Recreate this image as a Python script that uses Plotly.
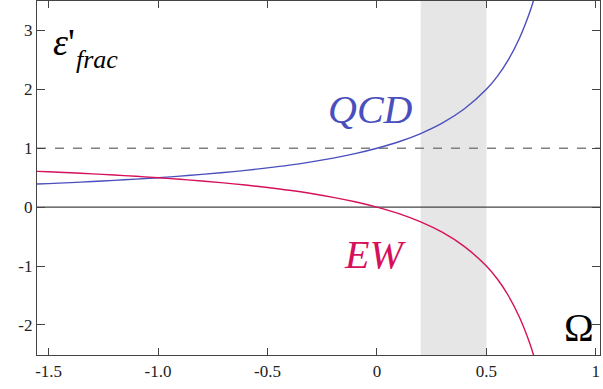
import plotly.graph_objects as go

# Values
omega = [-1.6, -1.5, -1.4, -1.3, -1.2, -1.1, -1.0, -0.9, -0.8, -0.7, -0.6, -0.5, -0.4,
         -0.3, -0.2, -0.1, 0.0, 0.1, 0.2, 0.3, 0.4, 0.5, 0.55, 0.6, 0.65, 0.7, 0.72, 0.74]
qcd = [0.385, 0.40, 0.417, 0.435, 0.455, 0.476, 0.50, 0.526, 0.556, 0.588, 0.625, 0.667, 0.714,
       0.769, 0.833, 0.909, 1.00, 1.11, 1.25, 1.43, 1.67, 2.00, 2.22, 2.50, 2.86, 3.33, 3.57, 3.85]
ew = [0.615, 0.60, 0.583, 0.565, 0.545, 0.524, 0.50, 0.474, 0.444, 0.412, 0.375, 0.333, 0.286,
      0.231, 0.167, 0.091, 0.00, -0.11, -0.25, -0.43, -0.67, -1.00, -1.22, -1.50, -1.86, -2.33, -2.57, -2.85]

band = [0.2, 0.5]
ref_level = 1.0

x_tickvals = [-1.5, -1.0, -0.5, 0, 0.5, 1]
x_ticktext = ["-1.5", "-1.0", "-0.5", "0", "0.5", "1"]
y_tickvals = [-2, -1, 0, 1, 2, 3]
y_ticktext = ["-2", "-1", "0", "1", "2", "3"]

BLUE = "#4a4fbd"
RED = "#d6105a"
SERIF = "Liberation Serif"

fig = go.Figure()
fig.add_trace(go.Scatter(x=omega, y=qcd, mode="lines", line=dict(color=BLUE, width=1.4, shape="spline"),
                         showlegend=False))
fig.add_trace(go.Scatter(x=omega, y=ew, mode="lines", line=dict(color=RED, width=1.4, shape="spline"),
                         showlegend=False))

fig.add_shape(type="rect", xref="x", yref="paper", x0=band[0], x1=band[1], y0=0, y1=1,
              fillcolor="#e6e6e6", line=dict(width=0), layer="below")
fig.add_hline(y=ref_level, line=dict(color="#808080", width=1.3, dash="dash"), layer="below")
fig.add_hline(y=0, line=dict(color="#444444", width=1.2), layer="below")

fig.add_annotation(x=-0.03, y=1.66, text="<i>QCD</i>", showarrow=False,
                   font=dict(family=SERIF, size=40, color=BLUE))
fig.add_annotation(x=-0.01, y=-0.8, text="<i>EW</i>", showarrow=False,
                   font=dict(family=SERIF, size=40, color=RED))
fig.add_annotation(x=0.925, y=-2.05, text="Ω", showarrow=False,
                   font=dict(family=SERIF, size=40, color="black"))
fig.add_annotation(x=-1.43, y=2.80, text="<i>ε</i>'", showarrow=False,
                   font=dict(family=SERIF, size=38, color="black"))
fig.add_annotation(x=-1.28, y=2.50, text="<i>frac</i>", showarrow=False,
                   font=dict(family=SERIF, size=26, color="black"))

fig.update_xaxes(range=[-1.553, 1.019], tickmode="array", tickvals=x_tickvals, ticktext=x_ticktext,
                 ticks="inside", ticklen=7, tickwidth=1.2, tickcolor="#444444",
                 tickfont=dict(family=SERIF, size=17, color="#222222"),
                 showline=True, linecolor="#444444", linewidth=1.2, mirror="allticks",
                 showgrid=False, zeroline=False)
fig.update_yaxes(range=[-2.51, 3.5], tickmode="array", tickvals=y_tickvals, ticktext=y_ticktext,
                 ticks="inside", ticklen=8, tickwidth=1.2, tickcolor="#444444",
                 tickfont=dict(family=SERIF, size=17, color="#222222"),
                 showline=True, linecolor="#444444", linewidth=1.2, mirror="allticks",
                 showgrid=False, zeroline=False)

fig.update_layout(width=603, height=389, margin=dict(l=37, r=3, t=1, b=34),
                  plot_bgcolor="white", paper_bgcolor="white")

fig.write_html("out.html")
